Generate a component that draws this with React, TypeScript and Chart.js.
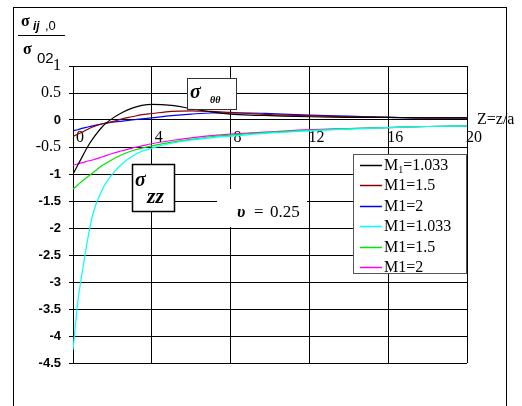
import { useEffect, useRef } from "react";
import { Chart, registerables } from "chart.js";

Chart.register(...registerables);

const SERIF = "'Liberation Serif', 'Times New Roman', serif";
const SANS = "'Liberation Sans', Arial, sans-serif";

// Distance from the surface, z = Z/a
const zValues = [0, 0.25, 0.5, 0.75, 1, 1.5, 2, 2.5, 3, 3.5, 4, 5, 6, 7, 8, 9, 10, 12, 14, 16, 18, 20];

// Hoop stress sigma_theta-theta / sigma_02
const thetaM1033 = [-1.0, -0.83, -0.66, -0.49, -0.35, -0.12, 0.03, 0.14, 0.22, 0.27, 0.29, 0.27, 0.21, 0.15, 0.11, 0.09, 0.08, 0.06, 0.05, 0.05, 0.04, 0.04];
const thetaM15 = [-0.31, -0.26, -0.22, -0.17, -0.13, -0.07, -0.03, 0.02, 0.06, 0.1, 0.12, 0.16, 0.17, 0.16, 0.14, 0.12, 0.1, 0.08, 0.06, 0.05, 0.04, 0.04];
const thetaM2 = [-0.2, -0.18, -0.15, -0.13, -0.11, -0.07, -0.04, -0.02, 0.0, 0.02, 0.04, 0.08, 0.11, 0.13, 0.13, 0.13, 0.12, 0.09, 0.07, 0.05, 0.04, 0.04];

// Axial stress sigma_zz / sigma_02
const zzM1033 = [-4.26, -3.35, -2.75, -2.2, -1.75, -1.28, -1.0, -0.81, -0.67, -0.58, -0.52, -0.43, -0.37, -0.33, -0.3, -0.27, -0.24, -0.2, -0.17, -0.14, -0.12, -0.11];
const zzM15 = [-1.28, -1.2, -1.12, -1.05, -0.98, -0.84, -0.73, -0.64, -0.57, -0.52, -0.48, -0.41, -0.36, -0.31, -0.28, -0.25, -0.23, -0.19, -0.16, -0.14, -0.12, -0.11];
const zzM2 = [-0.84, -0.81, -0.79, -0.76, -0.74, -0.68, -0.62, -0.57, -0.52, -0.48, -0.44, -0.38, -0.33, -0.29, -0.26, -0.24, -0.22, -0.18, -0.16, -0.14, -0.12, -0.11];

const seriesLabels = ["M₁=1.033", "M1=1.5", "M1=2", "M1=1.033", "M1=1.5", "M1=2"];
const seriesColors = ["#000000", "#8b0000", "#0000ff", "#00ffff", "#00e600", "#ff00ff"];
const seriesValues = [thetaM1033, thetaM15, thetaM2, zzM1033, zzM15, zzM2];

const yMin = -4.5;
const yMax = 1;
const yStep = 0.5;
const xMin = 0;
const xMax = 20;
const xStep = 4;
// tick values printed in the serif face; the rest use bold sans
const serifTickValues = [1, 0.5, -0.5];

const poissonText = "0.25";

type Ctx = CanvasRenderingContext2D;

function put(ctx: Ctx, s: string, x: number, y: number, font: string) {
  ctx.font = font;
  ctx.textAlign = "left";
  ctx.textBaseline = "alphabetic";
  ctx.fillStyle = "#000";
  ctx.fillText(s, x, y);
  return ctx.measureText(s).width;
}

function whiteBox(ctx: Ctx, x: number, y: number, w: number, h: number, stroke: string | null, lw = 1) {
  ctx.fillStyle = "#fff";
  ctx.fillRect(x, y, w, h);
  if (stroke) {
    ctx.strokeStyle = stroke;
    ctx.lineWidth = lw;
    ctx.strokeRect(Math.round(x) + 0.5, Math.round(y) + 0.5, Math.round(w), Math.round(h));
  }
}

const decorations = {
  id: "decorations",
  afterDraw(chart: any) {
    const ctx: Ctx = chart.ctx;
    const xs = chart.scales.x;
    const ys = chart.scales.y;
    const area = chart.chartArea;
    const px = (z: number) => xs.getPixelForValue(z);
    const py = (s: number) => ys.getPixelForValue(s);
    ctx.save();

    // outer frame
    ctx.strokeStyle = "#000";
    ctx.lineWidth = 1;
    ctx.strokeRect(13.5, 7.5, 493, 440);

    // y-axis title: sigma_ij,0 / sigma_02
    put(ctx, "σ", 21, 26, `bold 16px ${SERIF}`);
    put(ctx, "ij", 33, 30, `bold italic 12px ${SANS}`);
    put(ctx, ",0", 45, 30, `13px ${SANS}`);
    ctx.beginPath();
    ctx.moveTo(18, 35.5);
    ctx.lineTo(65, 35.5);
    ctx.strokeStyle = "#000";
    ctx.lineWidth = 1;
    ctx.stroke();
    put(ctx, "σ", 23, 54, `bold 16px ${SERIF}`);
    put(ctx, "02", 37, 63, `15px ${SANS}`);

    // x-axis title
    put(ctx, "Z=z/a", area.right + 10, py(0) + 4, `16px ${SERIF}`);

    // sigma_theta-theta label box
    {
      const bx = px(5.79), by = py(0.78);
      whiteBox(ctx, bx, by, 49, 31, "#333");
      put(ctx, "σ", bx + 3, by + 20, `bold italic 20px ${SERIF}`);
      put(ctx, "θθ", bx + 23, by + 25, `bold italic 10px ${SERIF}`);
    }

    // sigma_zz label box
    {
      const bx = px(2.99), by = py(-0.815);
      whiteBox(ctx, bx, by, 42, 47, "#000", 1.5);
      put(ctx, "σ", bx + 3, by + 22, `bold italic 20px ${SERIF}`);
      put(ctx, "zz", bx + 15, by + 39, `bold italic 22px ${SERIF}`);
    }

    // Poisson ratio note
    {
      const bx = px(7.31), by = py(-1.278);
      whiteBox(ctx, bx, by, 90, 38, null);
      put(ctx, "υ", bx + 20, by + 28, `bold italic 17px ${SERIF}`);
      put(ctx, "=", bx + 37, by + 28, `17px ${SERIF}`);
      put(ctx, poissonText, bx + 53, by + 28, `17px ${SERIF}`);
    }

    // legend
    {
      const bx = px(14.21), by = py(-0.63);
      const w = area.right - bx - 1;
      whiteBox(ctx, bx, by, w, 119, "#555");
      const rowH = 20.4;
      chart.data.datasets.forEach((ds: any, i: number) => {
        const cy = by + 11 + i * rowH;
        ctx.beginPath();
        ctx.moveTo(bx + 7, Math.round(cy) + 0.5);
        ctx.lineTo(bx + 29, Math.round(cy) + 0.5);
        ctx.strokeStyle = ds.borderColor;
        ctx.lineWidth = 1.5;
        ctx.stroke();
        const label: string = ds.label;
        const tx = bx + 31;
        const base = cy + 5;
        const sub = label.indexOf("₁");
        if (sub >= 0) {
          let cx = tx;
          cx += put(ctx, label.slice(0, sub), cx, base, `16px ${SERIF}`);
          cx += put(ctx, "1", cx, base + 3, `10px ${SERIF}`);
          put(ctx, label.slice(sub + 1), cx, base, `16px ${SERIF}`);
        } else {
          put(ctx, label, tx, base, `16px ${SERIF}`);
        }
      });
    }

    ctx.restore();
  },
};

export default function App() {
  const ref = useRef<HTMLCanvasElement>(null);

  useEffect(() => {
    const datasets = seriesValues.map((vals, i) => ({
      label: seriesLabels[i],
      data: zValues.map((z, k) => ({ x: z, y: vals[k] })),
      borderColor: seriesColors[i],
      backgroundColor: seriesColors[i],
      borderWidth: 1.2,
      pointRadius: 0,
      tension: 0.4,
      cubicInterpolationMode: "monotone" as const,
      fill: false,
    }));

    const chart = new Chart(ref.current as HTMLCanvasElement, {
      type: "line",
      data: { datasets },
      options: {
        responsive: false,
        animation: false,
        devicePixelRatio: 1,
        layout: { padding: { left: 0, top: 66, right: 55, bottom: 43 } },
        plugins: {
          legend: { display: false },
          tooltip: { enabled: false },
        },
        scales: {
          x: {
            type: "linear",
            min: xMin,
            max: xMax,
            position: { y: 0 } as any,
            ticks: {
              stepSize: xStep,
              autoSkip: false,
              maxRotation: 0,
              callback: (v: any) => String(v),
              font: { family: SERIF, size: 16 },
              color: "#000",
              padding: 8,
              labelOffset: 7,
            },
            grid: { color: "#000", lineWidth: 1, drawTicks: false },
            border: { display: true, color: "#000", width: 1 },
          },
          y: {
            type: "linear",
            min: yMin,
            max: yMax,
            ticks: {
              stepSize: yStep,
              autoSkip: false,
              callback: (v: any) => String(v),
              font: (c: any) =>
                c.tick && serifTickValues.includes(c.tick.value)
                  ? { family: SERIF, size: 16, weight: "normal" }
                  : { family: SANS, size: 13, weight: "bold" },
              color: "#000",
              padding: 8,
            },
            grid: { color: "#000", lineWidth: 1, tickLength: 4, tickColor: "#000" },
            border: { display: true, color: "#000", width: 1 },
            afterFit: (s: any) => {
              s.width = 73;
            },
          },
        },
      },
      plugins: [decorations],
    } as any);

    return () => chart.destroy();
  }, []);

  return (
    <div style={{ position: "absolute", left: 0, top: 0, width: 522, height: 406, background: "#fff" }}>
      <canvas ref={ref} width={522} height={406} style={{ display: "block" }} />
    </div>
  );
}
